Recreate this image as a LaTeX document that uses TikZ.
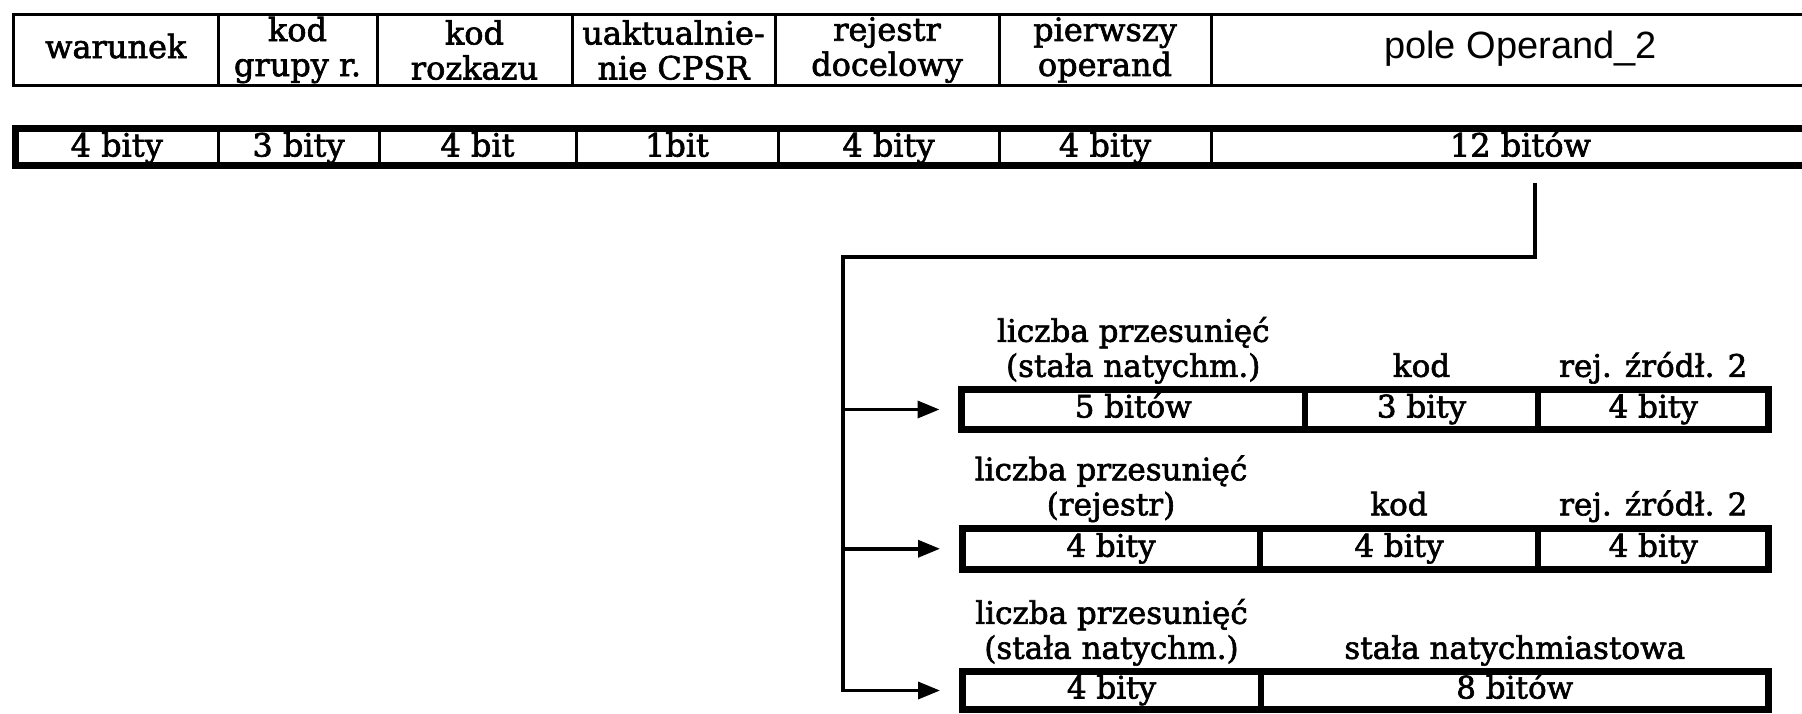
\documentclass[tikz,border=0pt]{standalone}
\usepackage{fontspec}
\setmainfont{DejaVu Serif}[FakeBold=2]
\newfontfamily\opfont{Liberation Sans}
\usetikzlibrary{arrows.meta}

\tikzset{
  cell/.style={draw, line width=3pt, inner sep=0pt, outer sep=0pt,
    anchor=north west, align=center,
    font=\fontsize{32}{35}\selectfont},
  one/.style={text height=24pt, text depth=8pt},
  low/.style={text height=28pt, text depth=8pt},
  subcell/.style={cell, one, font=\fontsize{31}{35}\selectfont},
  frame/.style={draw, line width=7pt},
  divider/.style={draw, line width=6pt},
  thinframe/.style={draw, line width=3pt},
  caption/.style={inner sep=0pt, anchor=south, align=center, text depth=8pt,
    font=\fontsize{31}{35}\selectfont},
  wire/.style={draw, line width=3.5pt},
  feed/.style={wire, -{Triangle[length=22pt,width=17pt]}, shorten >=22pt}
}

\begin{document}
\begin{tikzpicture}[x=1pt, y=-1pt]
\useasboundingbox (0,0) rectangle (1802,713);
\clip (0,0) rectangle (1802,713);

% --- field names of the instruction word ---
\node[cell, one, minimum width=204.5pt, minimum height=71pt] (n1) at (13.5,14.5) {warunek};
\node[cell, minimum width=159pt, minimum height=71pt] (n2) at (218,14.5) {kod\\grupy r.};
\node[cell, minimum width=195pt, minimum height=71pt] (n3) at (377,14.5) {kod\\rozkazu};
\node[cell, minimum width=203pt, minimum height=71pt] (n4) at (572,14.5) {uaktualnie-\\nie CPSR};
\node[cell, minimum width=224pt, minimum height=71pt] (n5) at (775,14.5) {rejestr\\docelowy};
\node[cell, minimum width=212pt, minimum height=71pt] (n6) at (999,14.5) {pierwszy\\operand};
\node[cell, one, minimum width=619pt, minimum height=71pt, font=\opfont\fontsize{38}{40}\selectfont] (n7) at (1211,14.5) {pole Operand\_2};
\path[thinframe] (n1.north west) rectangle (n7.south east);

% --- field widths ---
\node[cell, low, minimum width=202.5pt, minimum height=37pt] (w1) at (15.5,128) {4 bity};
\node[cell, low, minimum width=161pt, minimum height=37pt] (w2) at (218,128) {3 bity};
\node[cell, low, minimum width=197pt, minimum height=37pt] (w3) at (379,128) {4 bit};
\node[cell, low, minimum width=202pt, minimum height=37pt] (w4) at (576,128) {1bit};
\node[cell, low, minimum width=221pt, minimum height=37pt] (w5) at (778,128) {4 bity};
\node[cell, low, minimum width=212pt, minimum height=37pt] (w6) at (999,128) {4 bity};
\node[cell, low, minimum width=619pt, minimum height=37pt] (w7) at (1211,128) {12 bitów};
\path[frame] (w1.north west) rectangle (w7.south east);

% --- Operand_2 variant: shift by immediate ---
\node[subcell, minimum width=343.5pt, minimum height=40pt] (a1) at (961.5,389.5) {5 bitów};
\node[subcell, minimum width=233pt, minimum height=40pt] (a2) at (1305,389.5) {3 bity};
\node[subcell, minimum width=230.5pt, minimum height=40pt] (a3) at (1538,389.5) {4 bity};
\path[frame] (a1.north west) rectangle (a3.south east);
\path[divider] (a1.north east) -- (a1.south east) (a2.north east) -- (a2.south east);
\node[caption] (ca1) at ([yshift=4.5pt]a1.north) {liczba przesunięć\\(stała natychm.)};
\node[caption] (ca2) at ([yshift=4.5pt]a2.north) {kod};
\node[caption] (ca3) at ([yshift=4.5pt]a3.north) {rej. źródł. 2};

% --- Operand_2 variant: shift by register ---
\node[subcell, minimum width=298pt, minimum height=41.5pt] (b1) at (962,528) {4 bity};
\node[subcell, minimum width=278pt, minimum height=41.5pt] (b2) at (1260,528) {4 bity};
\node[subcell, minimum width=230.5pt, minimum height=41.5pt] (b3) at (1538,528) {4 bity};
\path[frame] (b1.north west) rectangle (b3.south east);
\path[divider] (b1.north east) -- (b1.south east) (b2.north east) -- (b2.south east);
\node[caption] (cb1) at ([yshift=4.5pt]b1.north) {liczba przesunięć\\(rejestr)};
\node[caption] (cb2) at ([yshift=4.5pt]b2.north) {kod};
\node[caption] (cb3) at ([yshift=4.5pt]b3.north) {rej. źródł. 2};

% --- Operand_2 variant: rotated immediate ---
\node[subcell, minimum width=299pt, minimum height=38pt] (d1) at (962,671.5) {4 bity};
\node[subcell, minimum width=507.5pt, minimum height=38pt] (d2) at (1261,671.5) {8 bitów};
\path[frame] (d1.north west) rectangle (d2.south east);
\path[divider] (d1.north east) -- (d1.south east);
\node[caption] (cd1) at ([yshift=4.5pt]d1.north) {liczba przesunięć\\(stała natychm.)};
\node[caption] (cd2) at ([yshift=4.5pt]d2.north) {stała natychmiastowa};

% --- distribution lines ---
\coordinate (tap) at (1535,183);
\coordinate (bustop) at (843,257);
\coordinate (bus) at (843,400);
\path[feed] (tap) |- (bustop) |- (d1.west);
\path[feed] (bus |- a1.west) -- (a1.west);
\path[feed] (bus |- b1.west) -- (b1.west);
\end{tikzpicture}
\end{document}
